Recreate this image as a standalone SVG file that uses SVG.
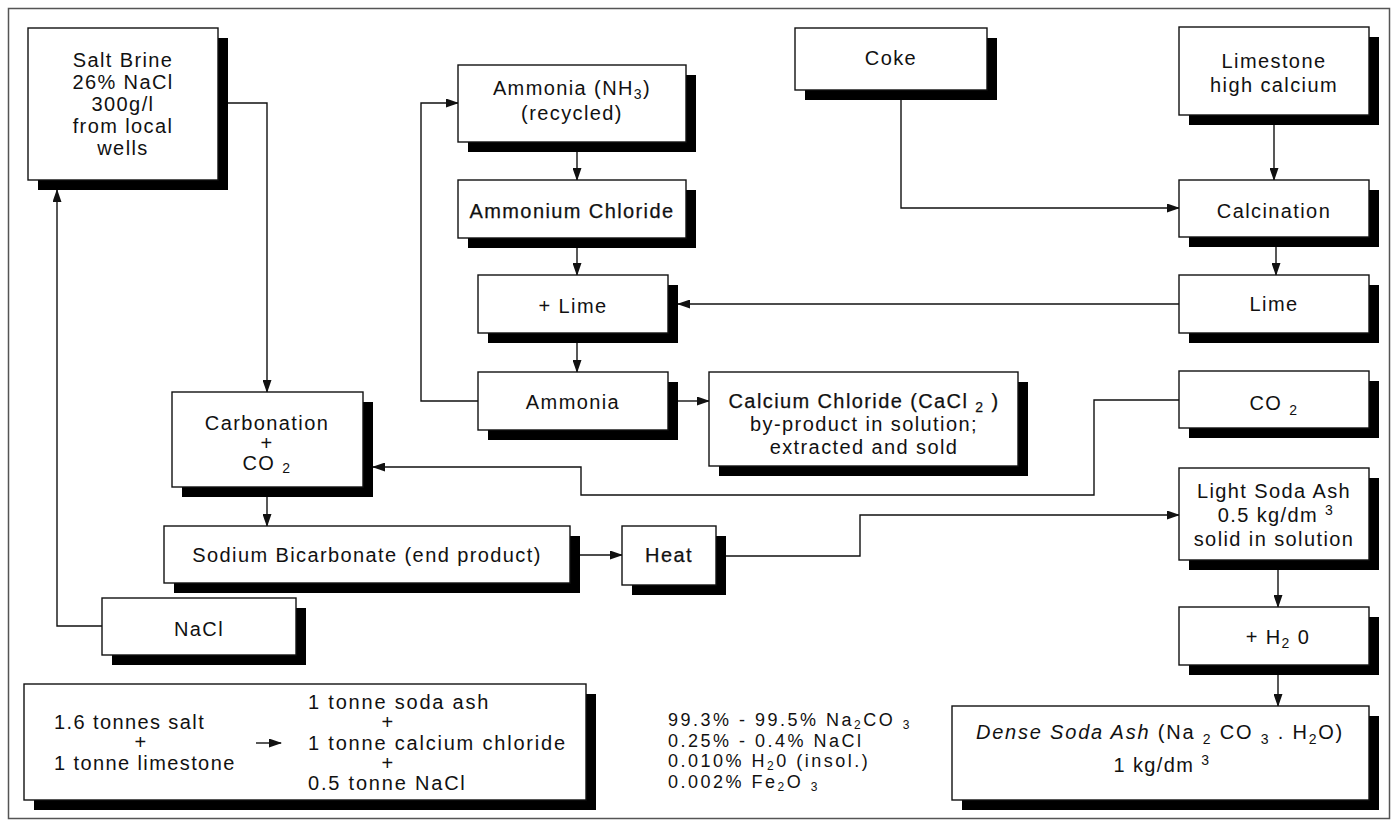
<svg xmlns="http://www.w3.org/2000/svg" width="1393" height="826" viewBox="0 0 1393 826">
<style>
.bx{fill:#fff;stroke:#111;stroke-width:1.4}
.sh{fill:#000}
.t{font-family:"Liberation Sans",Arial,sans-serif;font-size:20px;letter-spacing:1.4px;fill:#111;text-anchor:middle}
.l{text-anchor:start}
.b{stroke:#111;stroke-width:0.25}
.c{fill:none;stroke:#111;stroke-width:1.4}
.s{font-size:14px}
.f{font-size:18px;letter-spacing:2.5px}
.fs{font-size:12px}
</style>
<defs>
<marker id="ah" markerWidth="13" markerHeight="9" refX="12" refY="4.5" orient="auto" markerUnits="userSpaceOnUse"><path d="M0,0 L13,4.5 L0,9 z" fill="#111"/></marker>
</defs>
<rect x="8.5" y="8.5" width="1381" height="810" fill="#fff" stroke="#555" stroke-width="1.5"/>
<g id="connectors" class="c" marker-end="url(#ah)">
<path d="M228,103 H267 V392"/>
<path d="M102,626 H57 V190"/>
<path d="M478,401 H421 V103 H458"/>
<path d="M577,152 V180"/>
<path d="M577,248 V275"/>
<path d="M577,343 V372"/>
<path d="M678,401 H709"/>
<path d="M1179,304 H678"/>
<path d="M901,90 V208 H1179"/>
<path d="M1274,125 V180"/>
<path d="M1276,247 V275"/>
<path d="M1179,400 H1094 V495 H581 V467 H373"/>
<path d="M726,556 H860 V515 H1179"/>
<path d="M580,555 H622"/>
<path d="M267,497 V526"/>
<path d="M1278,570 V607"/>
<path d="M1278,675 V706"/>
</g>
<g id="brine">
<rect class="sh" x="38" y="38" width="190" height="152"/>
<rect class="bx" x="28" y="28" width="190" height="152"/>
<text class="t" x="123" y="67">Salt Brine</text>
<text class="t" x="123" y="89">26% NaCl</text>
<text class="t" x="123" y="111">300g/l</text>
<text class="t" x="123" y="133">from local</text>
<text class="t" x="123" y="155">wells</text>
</g>
<g id="ammonia-recycled">
<rect class="sh" x="468" y="75" width="228" height="77"/>
<rect class="bx" x="458" y="65" width="228" height="77"/>
<text class="t" x="572" y="95">Ammonia (NH<tspan class="s" dy="4">3</tspan><tspan dy="-4">)</tspan></text>
<text class="t" x="572" y="120">(recycled)</text>
</g>
<g id="ammonium-chloride">
<rect class="sh" x="468" y="190" width="228" height="58"/>
<rect class="bx" x="458" y="180" width="228" height="58"/>
<text class="t b" x="572" y="218">Ammonium Chloride</text>
</g>
<g id="plus-lime">
<rect class="sh" x="488" y="285" width="190" height="58"/>
<rect class="bx" x="478" y="275" width="190" height="58"/>
<text class="t" x="573" y="313">+ Lime</text>
</g>
<g id="ammonia">
<rect class="sh" x="488" y="382" width="190" height="58"/>
<rect class="bx" x="478" y="372" width="190" height="58"/>
<text class="t" x="573" y="409">Ammonia</text>
</g>
<g id="calcium-chloride">
<rect class="sh" x="719" y="382" width="309" height="94"/>
<rect class="bx" x="709" y="372" width="309" height="94"/>
<text class="t b" x="864" y="408">Calcium Chloride (CaCl <tspan class="s" dy="4">2</tspan><tspan dy="-4">  )</tspan></text>
<text class="t" x="864" y="431">by-product in solution;</text>
<text class="t" x="864" y="454">extracted and sold</text>
</g>
<g id="carbonation">
<rect class="sh" x="182" y="402" width="191" height="95"/>
<rect class="bx" x="172" y="392" width="191" height="95"/>
<text class="t" x="267" y="430">Carbonation</text>
<text class="t" x="267" y="450">+</text>
<text class="t" x="267" y="470">CO <tspan class="s" dy="3">2</tspan></text>
</g>
<g id="sodium-bicarbonate">
<rect class="sh" x="174" y="536" width="406" height="57"/>
<rect class="bx" x="164" y="526" width="406" height="57"/>
<text class="t" x="367" y="562">Sodium Bicarbonate (end product)</text>
</g>
<g id="heat">
<rect class="sh" x="632" y="536" width="94" height="59"/>
<rect class="bx" x="622" y="526" width="94" height="59"/>
<text class="t b" x="669" y="562">Heat</text>
</g>
<g id="nacl">
<rect class="sh" x="112" y="608" width="194" height="57"/>
<rect class="bx" x="102" y="598" width="194" height="57"/>
<text class="t" x="199" y="636">NaCl</text>
</g>
<g id="equation">
<rect class="sh" x="34" y="694" width="562" height="116"/>
<rect class="bx" x="24" y="684" width="562" height="116"/>
<text class="t l" x="54" y="729">1.6 tonnes salt</text>
<text class="t" x="141" y="749">+</text>
<text class="t l" x="54" y="770">1 tonne limestone</text>
<path class="c" d="M256,743 H281" marker-end="url(#ah)"/>
<text class="t l" x="308" y="709" style="letter-spacing:1.8px">1 tonne soda ash</text>
<text class="t" x="388" y="729">+</text>
<text class="t l" x="308" y="750" style="letter-spacing:1.8px">1 tonne calcium chloride</text>
<text class="t" x="388" y="770">+</text>
<text class="t l" x="308" y="790" style="letter-spacing:1.8px">0.5 tonne NaCl</text>
</g>
<g id="purity">
<text class="t l f" x="668" y="726">99.3% - 99.5% Na<tspan class="fs" dy="3">2</tspan><tspan dy="-3">CO </tspan><tspan class="fs" dy="3">3</tspan></text>
<text class="t l f" x="668" y="746.5">0.25% - 0.4% NaCl</text>
<text class="t l f" x="668" y="767">0.010% H<tspan class="fs" dy="3">2</tspan><tspan dy="-3">0 (insol.)</tspan></text>
<text class="t l f" x="668" y="787.5">0.002% Fe<tspan class="fs" dy="3">2</tspan><tspan dy="-3">O </tspan><tspan class="fs" dy="3">3</tspan></text>
</g>
<g id="coke">
<rect class="sh" x="805" y="38" width="192" height="62"/>
<rect class="bx" x="795" y="28" width="192" height="62"/>
<text class="t" x="891" y="65">Coke</text>
</g>
<g id="limestone">
<rect class="sh" x="1189" y="37" width="190" height="88"/>
<rect class="bx" x="1179" y="27" width="190" height="88"/>
<text class="t" x="1274" y="68">Limestone</text>
<text class="t" x="1274" y="92">high calcium</text>
</g>
<g id="calcination">
<rect class="sh" x="1189" y="190" width="190" height="57"/>
<rect class="bx" x="1179" y="180" width="190" height="57"/>
<text class="t" x="1274" y="218">Calcination</text>
</g>
<g id="lime">
<rect class="sh" x="1189" y="285" width="190" height="58"/>
<rect class="bx" x="1179" y="275" width="190" height="58"/>
<text class="t" x="1274" y="311">Lime</text>
</g>
<g id="co2">
<rect class="sh" x="1189" y="381" width="190" height="57"/>
<rect class="bx" x="1179" y="371" width="190" height="57"/>
<text class="t" x="1274" y="410">CO <tspan class="s" dy="5">2</tspan></text>
</g>
<g id="light-soda-ash">
<rect class="sh" x="1189" y="478" width="190" height="92"/>
<rect class="bx" x="1179" y="468" width="190" height="92"/>
<text class="t" x="1274" y="498">Light Soda Ash</text>
<text class="t" x="1276" y="522">0.5 kg/dm <tspan class="s" dy="-7">3</tspan></text>
<text class="t" x="1274" y="546">solid in solution</text>
</g>
<g id="plus-water">
<rect class="sh" x="1189" y="617" width="190" height="58"/>
<rect class="bx" x="1179" y="607" width="190" height="58"/>
<text class="t" x="1278" y="644">+ H<tspan class="s" dy="4">2</tspan><tspan dy="-4"> 0</tspan></text>
</g>
<g id="dense-soda-ash">
<rect class="sh" x="962" y="716" width="417" height="94"/>
<rect class="bx" x="952" y="706" width="417" height="94"/>
<text class="t" x="1160" y="739" style="letter-spacing:1.8px"><tspan font-style="italic">Dense Soda Ash</tspan> (Na <tspan class="s" dy="5">2</tspan><tspan dy="-5"> CO </tspan><tspan class="s" dy="5">3</tspan><tspan dy="-5">  .   H</tspan><tspan class="s" dy="5">2</tspan><tspan dy="-5">O)</tspan></text>
<text class="t" x="1162" y="772">1 kg/dm <tspan class="s" dy="-7">3</tspan></text>
</g>
</svg>
